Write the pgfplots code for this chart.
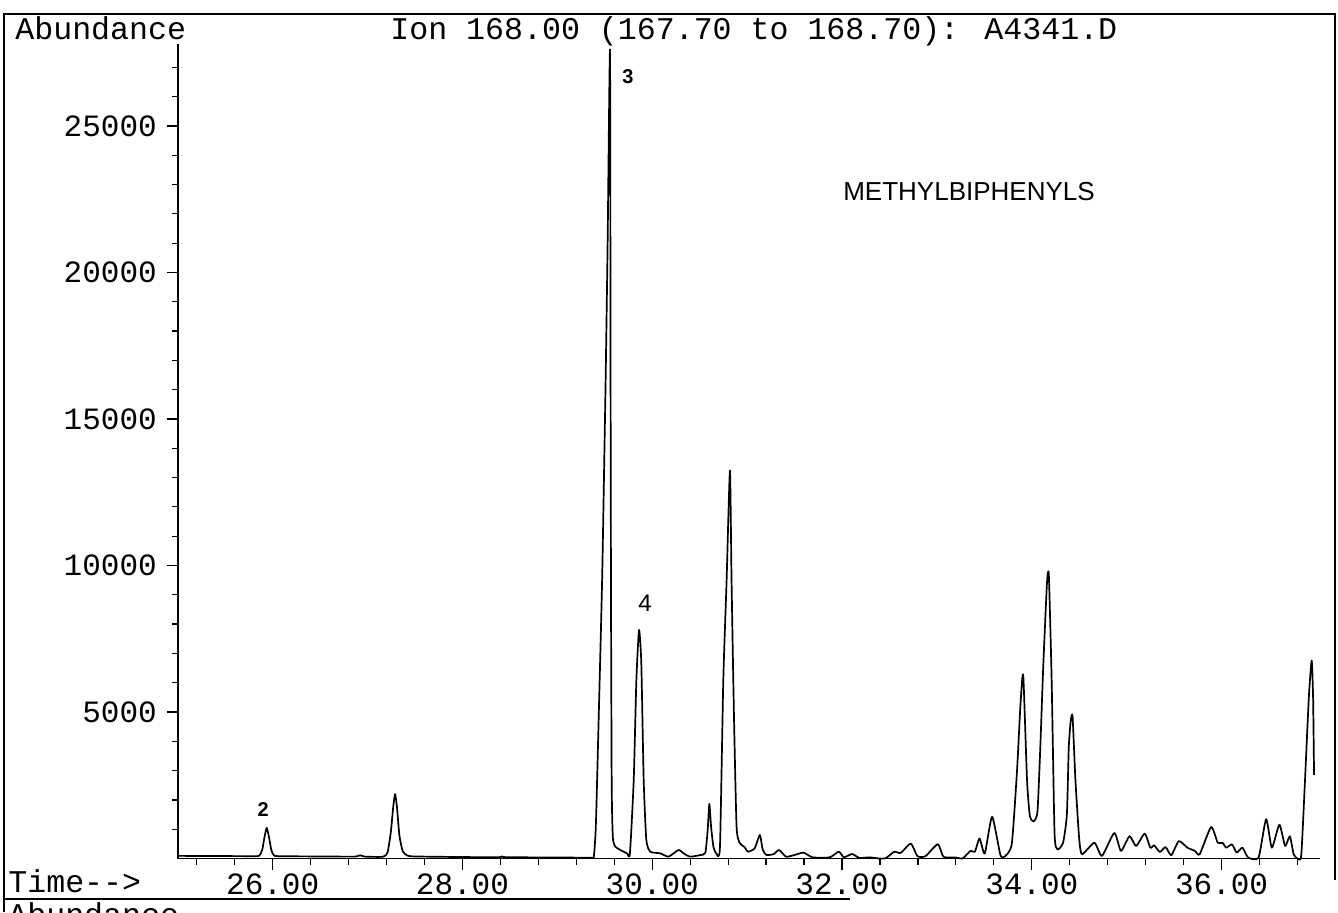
\documentclass[border=0pt]{standalone}
\usepackage{fontspec}
\usepackage{pgfplots}
\usepackage{pgfplotstable}
\pgfplotsset{compat=1.18}
\newfontfamily\mono{Liberation Mono}
\newfontfamily\arial{Liberation Sans}

% retention time (min) vs abundance
\pgfplotstableread{
t a
25.00 90
25.40 85
25.80 80
25.86 100
25.89 300
25.915 750
25.937 1045
25.96 750
25.985 300
26.01 120
26.06 80
26.50 70
26.86 65
26.92 110
26.97 65
27.16 60
27.21 200
27.245 900
27.27 1750
27.29 2200
27.31 1750
27.335 800
27.37 250
27.42 100
27.50 70
28.00 50
28.38 45
28.42 75
28.46 45
29.00 35
29.36 30
29.385 80
29.40 700
29.41 1540
29.437 4950
29.472 9500
29.497 14060
29.509 16330
29.53 21000
29.555 27600
29.561 16330
29.566 8370
29.572 3000
29.577 1540
29.587 630
29.612 400
29.665 290
29.735 176
29.765 176
29.805 2680
29.833 6090
29.861 7800
29.885 6660
29.91 2680
29.938 630
29.98 233
30.085 176
30.172 63
30.277 290
30.33 176
30.40 63
30.51 120
30.56 200
30.585 1000
30.602 1861
30.62 1100
30.645 400
30.675 176
30.714 404
30.749 6090
30.784 9500
30.819 13240
30.836 9500
30.861 4950
30.889 1086
30.924 518
30.97 400
31.01 233
31.08 350
31.134 802
31.165 300
31.204 120
31.28 150
31.337 290
31.41 63
31.50 120
31.595 200
31.69 40
31.87 40
31.966 233
32.02 40
32.106 154
32.183 20
32.29 40
32.39 0
32.46 10
32.55 228
32.62 193
32.725 512
32.795 80
32.88 80
33.01 489
33.07 57
33.20 34
33.27 0
33.355 262
33.40 228
33.45 683
33.505 171
33.582 1423
33.67 114
33.72 80
33.79 512
33.845 3016
33.88 5200
33.91 6250
33.95 2690
33.98 1456
34.02 1266
34.06 1600
34.09 3786
34.12 6470
34.16 9385
34.18 9666
34.21 6026
34.24 874
34.27 314
34.33 538
34.37 1500
34.39 3786
34.41 4682
34.43 4850
34.46 2688
34.50 672
34.53 146
34.66 538
34.74 90
34.87 874
34.94 258
35.03 762
35.10 426
35.19 851
35.25 370
35.29 448
35.35 224
35.41 392
35.47 112
35.55 594
35.64 370
35.72 258
35.77 146
35.89 1075
35.96 538
36.01 538
36.05 370
36.11 482
36.16 202
36.22 370
36.28 34
36.39 34
36.47 1344
36.53 370
36.61 1154
36.67 426
36.72 762
36.76 146
36.80 0
36.84 112
36.88 2688
36.92 5488
36.95 6754
36.965 5488
36.975 2856
}\chrom

\begin{document}
\begin{tikzpicture}[x=1pt,y=1pt]
\useasboundingbox (0,0) rectangle (669,456);
% page frame
\draw[line width=0.8pt] (2,0) -- (2,449) -- (667.5,449) -- (667.5,16);
\draw[line width=0.8pt] (2,6.5) -- (425,6.5);
\node[anchor=base west, inner sep=0, font=\mono\fontsize{15.8}{16}\selectfont] at (7.5,436) {Abundance};
\node[anchor=base west, inner sep=0, font=\mono\fontsize{15.8}{16}\selectfont] at (195,436) {Ion 168.00 (167.70 to 168.70): A4341.D};
\node[anchor=base west, inner sep=0, font=\mono\fontsize{15.8}{16}\selectfont] at (4,10) {Time-{}->};
\node[anchor=north west, inner sep=0, font=\mono\fontsize{15.8}{16}\selectfont] at (4,5) {Abundance};
\node[font=\arial\fontsize{13}{14}\selectfont] at (484.5,360.3) {METHYLBIPHENYLS};

\begin{axis}[
    at={(88.9pt,26.75pt)}, anchor=south west,
    scale only axis,
    width=571.2pt, height=407.3pt,
    xmin=25, xmax=37.04,
    ymin=0, ymax=27800,
    scaled ticks=false,
    axis lines*=left,
    axis line style={line width=0.8pt},
    tick align=outside,
    tick style={black, line width=0.6pt},
    major tick length=5.5pt,
    minor tick length=3pt,
    xtick={26,28,30,32,34,36},
    xticklabels={26.00,28.00,30.00,32.00,34.00,36.00},
    minor xtick={25.2,25.6,26.4,26.8,27.2,27.6,28.4,28.8,29.2,29.6,30.4,30.8,31.2,31.6,32.4,32.8,33.2,33.6,34.4,34.8,35.2,35.6,36.4,36.8},
    ytick={5000,10000,15000,20000,25000},
    yticklabels={5000,10000,15000,20000,25000},
    minor ytick={1000,2000,3000,4000,6000,7000,8000,9000,11000,12000,13000,14000,16000,17000,18000,19000,21000,22000,23000,24000,26000,27000},
    ticklabel style={font=\mono\fontsize{15.5}{16}\selectfont},
    yticklabel style={xshift=-1.5pt},
    xticklabel style={anchor=base, yshift=-12.5pt},
    clip=false,
]
\addplot[black, line width=0.85pt, line join=round, smooth, tension=0.35] table[x=t, y=a] {\chrom};
\node[font=\arial\bfseries\fontsize{10}{10}\selectfont] at (axis cs:25.90,1655) {2};
\node[font=\arial\bfseries\fontsize{10}{10}\selectfont] at (axis cs:29.745,26700) {3};
\node[font=\arial\fontsize{12}{12}\selectfont] at (axis cs:29.924,8720) {4};
\end{axis}
\end{tikzpicture}
\end{document}
